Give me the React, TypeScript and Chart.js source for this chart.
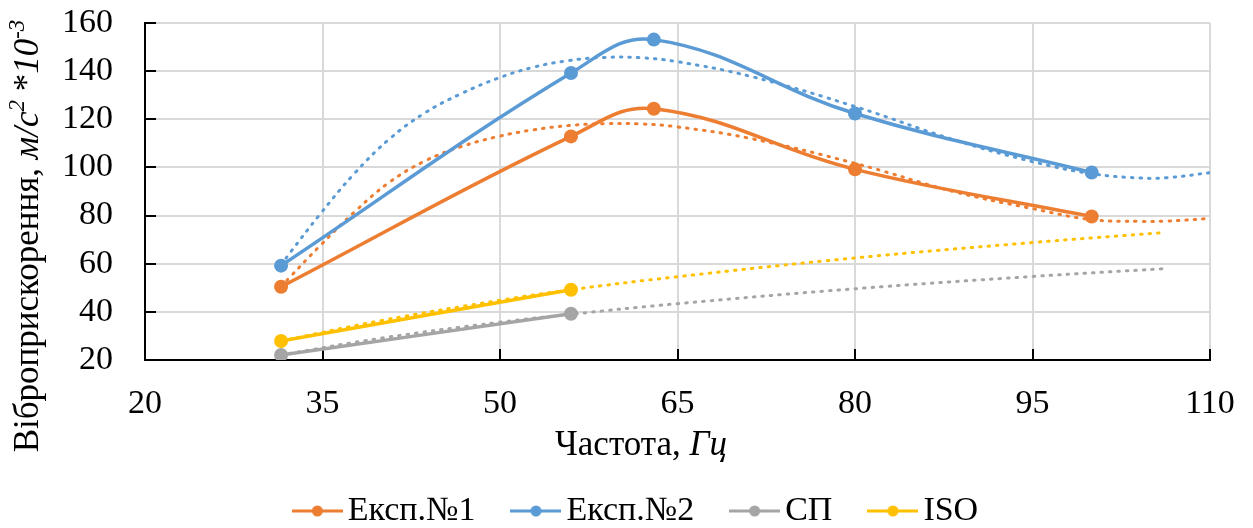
import React, { useEffect, useRef } from "react";
import { Chart, registerables } from "chart.js";

Chart.register(...registerables);

const FONT = "'Liberation Serif', 'Times New Roman', serif";

const seriesNames = ["Експ.№1", "Експ.№2", "СП", "ISO"];
const seriesColors = ["#ED7D31", "#5B9BD5", "#A5A5A5", "#FFC000"];

// measured series
const freqExp = [31.5, 56, 63, 80, 100];
const exp1Values = [50.4, 112.9, 124.4, 99.2, 79.6];
const exp2Values = [59.2, 139.2, 153.1, 122.4, 97.9];
const freqNorm = [31.5, 56];
const spValues = [22.1, 39.2];
const isoValues = [27.9, 49.2];

// dotted trend lines
const trendExpFreq = [31.5, 32.3, 34.7, 37.7, 40.7, 43.7, 46.7, 49.8, 52.8, 55.8, 58.8, 61.8, 64.9, 71.2, 80, 88.4, 95, 100, 104.1, 106.3, 110];
const trendExp1 = [50.5, 54.7, 67, 81.5, 94, 102.8, 108.6, 112.8, 115.6, 117.4, 118.2, 118.1, 116.9, 112, 101.7, 89.9, 82.9, 78.3, 77.6, 77.7, 78.8];
const trendExp2 = [59.5, 64.8, 80, 97.5, 112, 122.8, 130.6, 137, 141.6, 144.4, 145.7, 145.6, 144, 137.8, 125.3, 111.4, 102.4, 97.4, 95.6, 95.7, 97.8];
const trendNormFreq = [31.5, 40, 50, 56, 65, 80, 95, 106];
const trendSp = [22.1, 29.1, 35.7, 39.0, 43.4, 49.6, 54.7, 57.9];
const trendIso = [27.9, 36.4, 44.8, 49.2, 54.6, 62.4, 68.8, 72.9];

const xTickValues = [20, 35, 50, 65, 80, 95, 110];
const yTickValues = [20, 40, 60, 80, 100, 120, 140, 160];

type Seg = { text: string; italic?: boolean; sup?: boolean };
const xTitleSegs: Seg[] = [{ text: "Частота, " }, { text: "Гц", italic: true }];
const yTitleSegs: Seg[] = [
  { text: "Віброприскорення, " },
  { text: "м/с", italic: true },
  { text: "2", italic: true, sup: true },
  { text: " *" },
  { text: "10", italic: true },
  { text: "-3", italic: true, sup: true },
];

function drawRich(ctx: CanvasRenderingContext2D, segs: Seg[], size: number, supSize: number, supRise: number) {
  const fontOf = (s: Seg) => `${s.italic ? "italic " : ""}${s.sup ? supSize : size}px ${FONT}`;
  let total = 0;
  for (const s of segs) {
    ctx.font = fontOf(s);
    total += ctx.measureText(s.text).width;
  }
  let x = -total / 2;
  for (const s of segs) {
    ctx.font = fontOf(s);
    ctx.fillText(s.text, x, s.sup ? -supRise : 0);
    x += ctx.measureText(s.text).width;
  }
}

const titlesPlugin = {
  id: "richTitles",
  afterDraw(chart: any) {
    const ctx: CanvasRenderingContext2D = chart.ctx;
    ctx.save();
    ctx.fillStyle = "#000";
    ctx.textAlign = "left";
    ctx.textBaseline = "alphabetic";
    ctx.save();
    ctx.translate(641, 455);
    drawRich(ctx, xTitleSegs, 35, 23, 14);
    ctx.restore();
    ctx.save();
    ctx.translate(38, 236);
    ctx.rotate(-Math.PI / 2);
    drawRich(ctx, yTitleSegs, 35, 23, 14);
    ctx.restore();
    ctx.restore();
  },
};

const innerTicksPlugin = {
  id: "innerTicks",
  beforeDatasetsDraw(chart: any) {
    const ctx: CanvasRenderingContext2D = chart.ctx;
    const { left, bottom } = chart.chartArea;
    const xs = chart.scales.x;
    const ys = chart.scales.y;
    const len = 11;
    ctx.save();
    ctx.strokeStyle = "#000";
    ctx.lineWidth = 2;
    ctx.beginPath();
    for (const v of xTickValues) {
      const px = Math.round(xs.getPixelForValue(v));
      ctx.moveTo(px, bottom);
      ctx.lineTo(px, bottom - len);
    }
    for (const v of yTickValues) {
      const py = Math.round(ys.getPixelForValue(v));
      ctx.moveTo(left, py);
      ctx.lineTo(left + len, py);
    }
    ctx.stroke();
    ctx.restore();
  },
};

function makeLegendIcon(color: string) {
  const c = document.createElement("canvas");
  c.width = 51;
  c.height = 14;
  const g = c.getContext("2d")!;
  g.strokeStyle = color;
  g.lineWidth = 3;
  g.beginPath();
  g.moveTo(0, 7);
  g.lineTo(51, 7);
  g.stroke();
  g.fillStyle = color;
  g.beginPath();
  g.arc(25.5, 7, 5.5, 0, Math.PI * 2);
  g.fill();
  return c;
}

const toPoints = (xs: number[], ys: number[]) => xs.map((x, i) => ({ x, y: ys[i] }));

export default function App() {
  const canvasRef = useRef<HTMLCanvasElement | null>(null);

  useEffect(() => {
    document.body.style.margin = "0";
    if (!canvasRef.current) return;
    const icons = seriesColors.map(makeLegendIcon);

    const mainSets = [
      [freqExp, exp1Values],
      [freqExp, exp2Values],
      [freqNorm, spValues],
      [freqNorm, isoValues],
    ].map(([xs, ys], i) => ({
      label: seriesNames[i],
      data: toPoints(xs, ys),
      borderColor: seriesColors[i],
      backgroundColor: seriesColors[i],
      borderWidth: 3.5,
      borderCapStyle: "round" as const,
      borderJoinStyle: "round" as const,
      pointRadius: 7,
      pointHoverRadius: 7,
      pointBackgroundColor: seriesColors[i],
      pointBorderColor: seriesColors[i],
      pointBorderWidth: 0,
      tension: 0.4,
      order: 0,
    }));

    const trendSets = [
      [trendExpFreq, trendExp1],
      [trendExpFreq, trendExp2],
      [trendNormFreq, trendSp],
      [trendNormFreq, trendIso],
    ].map(([xs, ys], i) => ({
      label: "trend " + seriesNames[i],
      data: toPoints(xs, ys),
      borderColor: seriesColors[i],
      backgroundColor: seriesColors[i],
      borderWidth: 3,
      borderDash: [1.5, 7],
      borderCapStyle: "round" as const,
      pointRadius: 0,
      pointHoverRadius: 0,
      tension: 0.4,
      order: 1,
    }));

    const tickFont = { family: FONT, size: 34 };

    const chart = new Chart(canvasRef.current, {
      type: "line",
      data: { datasets: [...mainSets, ...trendSets] as any },
      options: {
        animation: false,
        responsive: true,
        maintainAspectRatio: false,
        layout: { padding: { left: 29, right: 0, top: 23, bottom: -10 } },
        plugins: {
          tooltip: { enabled: false },
          legend: {
            position: "bottom",
            onClick: () => {},
            labels: {
              usePointStyle: true,
              pointStyleWidth: 27,
              padding: 47,
              color: "#000",
              font: { family: FONT, size: 34 },
              generateLabels: () =>
                seriesNames.map((name, i) => ({
                  text: name,
                  pointStyle: icons[i] as any,
                  fillStyle: seriesColors[i],
                  strokeStyle: seriesColors[i],
                  lineWidth: 0,
                  hidden: false,
                  datasetIndex: i,
                  fontColor: "#000",
                })),
            },
          },
        },
        scales: {
          x: {
            type: "linear",
            min: 20,
            max: 110,
            afterBuildTicks: (s: any) => {
              s.ticks = xTickValues.map((v) => ({ value: v }));
            },
            afterFit: (s: any) => {
              s.height = 87;
              s.paddingLeft = 0;
              s.paddingRight = 0;
            },
            grid: { color: "#d9d9d9", lineWidth: 2, drawTicks: false },
            border: { color: "#000", width: 2 },
            ticks: { padding: 24, color: "#000", font: tickFont, maxRotation: 0, autoSkip: false },
          },
          y: {
            type: "linear",
            min: 20,
            max: 160,
            afterBuildTicks: (s: any) => {
              s.ticks = yTickValues.map((v) => ({ value: v }));
            },
            afterFit: (s: any) => {
              s.width = 116;
              s.paddingTop = 0;
              s.paddingBottom = 0;
            },
            grid: { color: "#d9d9d9", lineWidth: 2, drawTicks: false },
            border: { color: "#000", width: 2 },
            ticks: { padding: 32, color: "#000", font: tickFont, autoSkip: false },
          },
          yRightSpace: {
            type: "linear",
            position: "right",
            min: 0,
            max: 1,
            display: true,
            afterFit: (s: any) => {
              s.width = 43;
              s.paddingTop = 0;
              s.paddingBottom = 0;
            },
            grid: { display: false, drawTicks: false },
            border: { display: false },
            ticks: { display: false },
          },
        },
      },
      plugins: [innerTicksPlugin, titlesPlugin],
    });

    return () => chart.destroy();
  }, []);

  return (
    <div style={{ position: "relative", width: "1253px", height: "528px" }}>
      <canvas ref={canvasRef} />
    </div>
  );
}
